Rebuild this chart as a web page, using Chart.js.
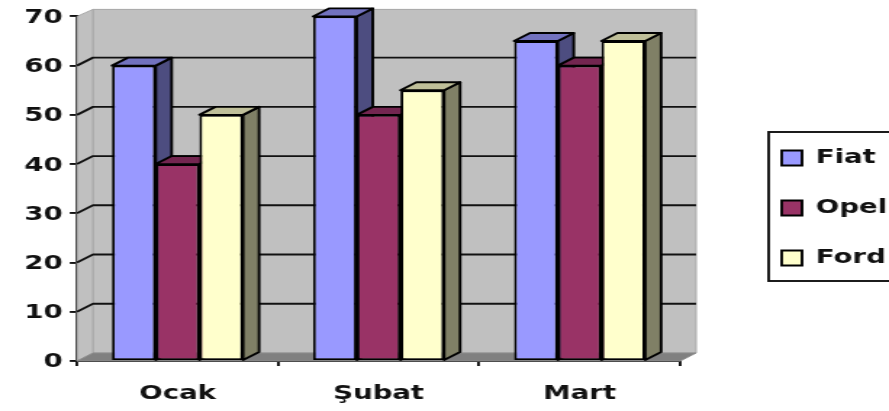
<!DOCTYPE html>
<html><head><meta charset="utf-8">
<style>
html,body{margin:0;padding:0;background:#fff;overflow:hidden}
#c{position:absolute;left:0;top:0;width:889px!important;height:411px!important;filter:blur(0.4px)}
</style>
<script src="https://cdn.jsdelivr.net/npm/chart.js@4"></script>
</head><body>
<canvas id="c" width="613" height="411"></canvas>
<script>
const categories = ["Ocak", "Şubat", "Mart"];
const fiat = [60, 70, 65];
const opel = [40, 50, 60];
const ford = [50, 55, 65];
const yTicks = {min: 0, max: 70, step: 10};

const DX = 11, DY = 8;           // depth of the 3D box, canvas px
const LINE = 1.9;
const faces = [
  {side: '#4D4D80', top: '#7272BF'},
  {side: '#7A1F4D', top: '#732650'},
  {side: '#808066', top: '#BFBF99'}
];

function poly(ctx, pts, fill, stroke, lw) {
  ctx.beginPath();
  pts.forEach((p, i) => i ? ctx.lineTo(p[0], p[1]) : ctx.moveTo(p[0], p[1]));
  ctx.closePath();
  if (fill) { ctx.fillStyle = fill; ctx.fill(); }
  if (stroke) { ctx.strokeStyle = stroke; ctx.lineWidth = lw; ctx.lineJoin = 'round'; ctx.stroke(); }
}

const walls = {
  id: 'walls',
  beforeDatasetsDraw(chart) {
    const {ctx, chartArea: a, scales: {y}} = chart;
    ctx.save();
    const edge = '#A6A6A6';
    poly(ctx, [[a.left + DX, a.top - DY + 1], [a.right + DX, a.top - DY + 1], [a.right + DX, a.bottom - DY], [a.left + DX, a.bottom - DY]], '#C0C0C0', edge, 1);
    poly(ctx, [[a.left, a.top], [a.left + DX, a.top - DY + 1], [a.left + DX, a.bottom - DY], [a.left, a.bottom]], '#C0C0C0', edge, 1);
    poly(ctx, [[a.left, a.bottom], [a.left + DX, a.bottom - DY], [a.right + DX, a.bottom - DY], [a.right, a.bottom]], '#808080', '#8C8C8C', 1);
    ctx.strokeStyle = '#111';
    ctx.lineWidth = LINE;
    for (let v = yTicks.min + yTicks.step; v < yTicks.max; v += yTicks.step) {
      const py = y.getPixelForValue(v);
      ctx.beginPath();
      ctx.moveTo(a.left, py);
      ctx.lineTo(a.left + DX, py - DY);
      ctx.lineTo(a.right + DX, py - DY);
      ctx.stroke();
    }
    ctx.restore();
  },
  // The library paints first-to-last in reverse; the box faces need Fiat, Opel, Ford.
  beforeDatasetDraw() { return false; },
  afterDatasetsDraw(chart) {
    const {ctx} = chart;
    faces.forEach((f, i) => {
      const meta = chart.getDatasetMeta(i);
      ctx.save();
      meta.data.forEach(b => {
        const l = b.x - b.width / 2, r = b.x + b.width / 2, t = b.y, bt = b.base;
        poly(ctx, [[r, t], [r + DX, t - DY], [r + DX, bt - DY], [r, bt]], f.side, '#000', LINE);
        poly(ctx, [[l, t], [l + DX, t - DY], [r + DX, t - DY], [r, t]], f.top, '#000', LINE);
      });
      ctx.restore();
      meta.controller.draw();
    });
  },
  beforeLayout(chart) {
    const l = chart.legend;
    if (l && !l._wrapped) {
      const fit = l.fit;
      l.fit = function () { fit.call(this); this.width = 144; };
      l._wrapped = true;
    }
  },
  afterLayout(chart) {
    const l = chart.legend;
    l.left = 508; l.right = 613; l.width = 105;
    l.top = 2; l.bottom = 414; l.height = 412;
  },
  afterDraw(chart) {
    const {ctx} = chart;
    ctx.save();
    ctx.strokeStyle = '#111';
    ctx.lineWidth = LINE;
    ctx.strokeRect(530, 132, 100, 149);
    ctx.restore();
  }
};

const font = {family: '"DejaVu Sans"', weight: 'bold', size: 19};

new Chart(document.getElementById('c'), {
  type: 'bar',
  data: {
    labels: categories,
    datasets: [
      {label: 'Fiat', data: fiat, backgroundColor: '#9999FF'},
      {label: 'Opel', data: opel, backgroundColor: '#993366'},
      {label: 'Ford', data: ford, backgroundColor: '#FFFFCC'}
    ].map(d => Object.assign(d, {
      borderColor: '#000', borderWidth: LINE, borderSkipped: false,
      categoryPercentage: 0.652, barPercentage: 1
    }))
  },
  options: {
    responsive: false,
    devicePixelRatio: 1,
    animation: false,
    layout: {padding: {top: 16, left: 0, right: 0, bottom: 0}},
    plugins: {
      tooltip: {enabled: false},
      legend: {
        position: 'right',
        labels: {font, color: '#111', boxWidth: 14, boxHeight: 15, padding: 31}
      }
    },
    scales: {
      x: {
        grid: {drawOnChartArea: false, drawTicks: true, tickLength: 5, tickColor: '#111', lineWidth: LINE},
        border: {color: '#111', width: 2},
        ticks: {font, color: '#111', padding: 17, maxRotation: 0},
        afterFit(s) { s.height = 50; }
      },
      y: {
        min: yTicks.min, max: yTicks.max,
        grid: {drawOnChartArea: false, drawTicks: true, tickLength: 5, tickColor: '#111', lineWidth: LINE},
        border: {color: '#111', width: 2},
        ticks: {font, color: '#111', stepSize: yTicks.step, padding: 5, labelOffset: 1.5},
        afterFit(s) { s.width = 53.1; }
      }
    }
  },
  plugins: [walls]
});
</script>
</body></html>
